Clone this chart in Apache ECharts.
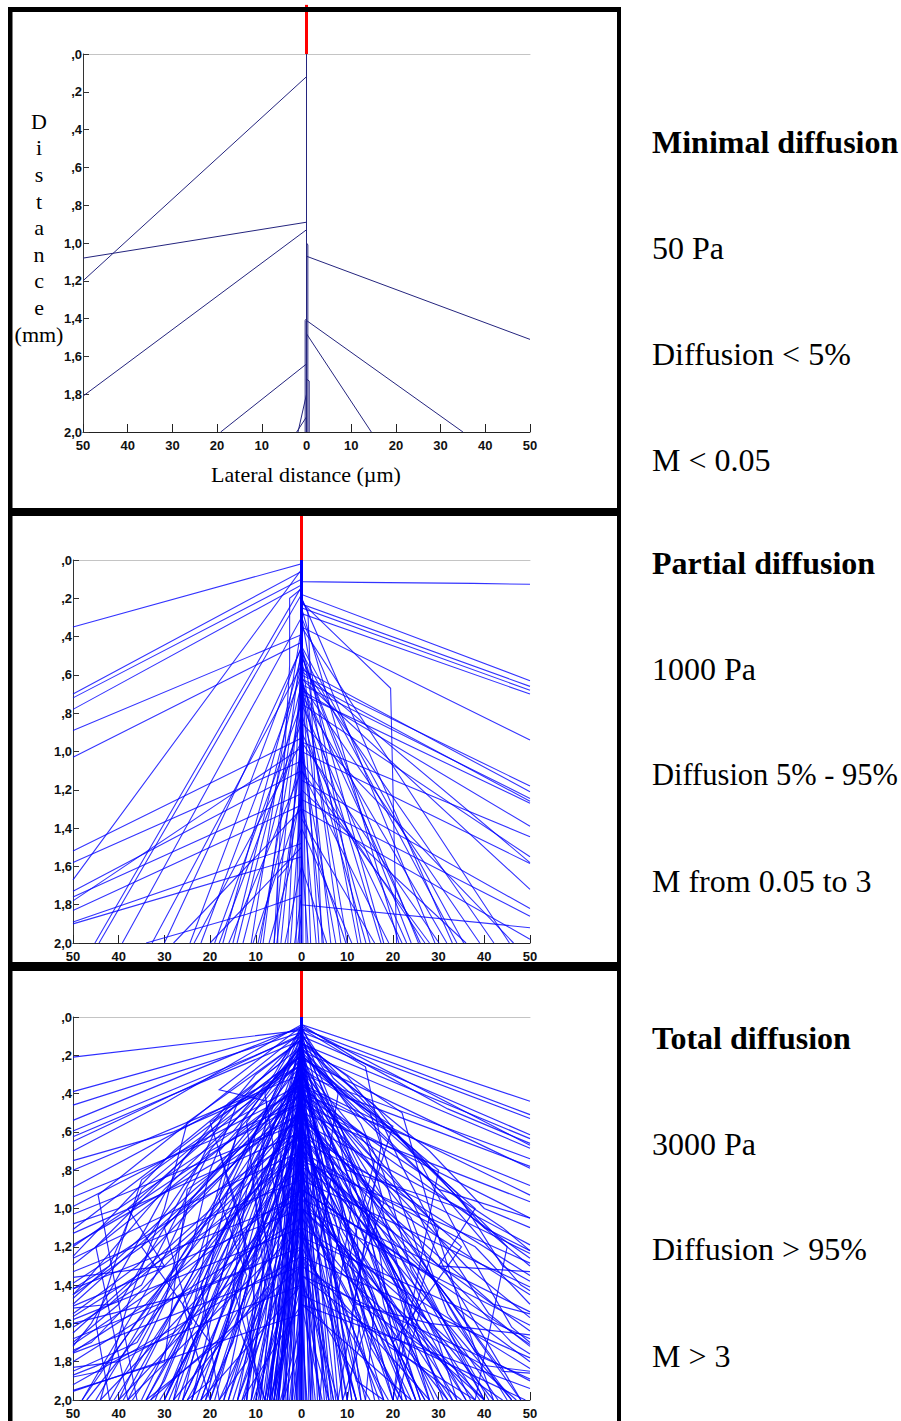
<!DOCTYPE html>
<html><head><meta charset="utf-8">
<script src="https://cdn.jsdelivr.net/npm/echarts@6/dist/echarts.min.js"></script>
<style>html,body{margin:0;padding:0;background:#fff}#c{width:901px;height:1421px}</style>
</head><body><div id="c"></div>
<script>
// ---------- tick labels ----------
const xTickLabels = ['50','40','30','20','10','0','10','20','30','40','50'];
const yTickLabels = [',0',',2',',4',',6',',8','1,0','1,2','1,4','1,6','1,8','2,0'];

// ---------- side texts ----------
const panelTitles = ['Minimal diffusion','Partial diffusion','Total diffusion'];
const panelPressure = ['50 Pa','1000 Pa','3000 Pa'];
const panelDiffusion = ['Diffusion < 5%','Diffusion 5% - 95%','Diffusion > 95%'];
const panelM = ['M < 0.05','M from 0.05 to 3','M > 3'];
const xTitle = 'Lateral distance (\u00b5m)';
const yTitle = 'D\ni\ns\nt\na\nn\nc\ne\n(mm)';

// ---------- trajectories: [scatter depth (mm), end x (µm), end y (mm)] ----------
const p1Scatter = [
 [0.12,-50,1.20],[0.89,-50,1.08],[0.93,-50,1.81],[1.07,50,1.51],[1.41,35,2.0],
 [1.48,14.5,2.0],[1.64,-19.2,2.0],[1.80,-1.9,2.0],[1.92,-2.2,2.0],[2.0,0,2.0]
];
// multi-segment trajectories: flat x,y,x,y...
const p1Paths = [
 [0,0,0,1.0,0.3,1.01,0.3,2.0],[0,0,0,1.4,-0.3,1.41,-0.3,2.0],[0,0,0,1.72,0.6,1.73,0.6,2.0]
];

const p2Scatter = [
 [0.02,-50,0.35],[0.06,-50,0.70],[0.10,-50,0.72],[0.13,-50,0.78],[0.39,-50,0.89],[0.43,-50,1.03],
 [0.05,-50,1.67],[0.93,-50,1.52],[1.05,-50,1.58],[1.10,-50,1.73],[1.22,-50,1.76],[0.98,-50,1.78],
 [1.28,-50,1.83],[1.48,-50,1.89],[1.55,-50,1.90],
 [0.14,-45.2,2],[0.18,-44.3,2],[0.30,-39.2,2],[0.55,-32.7,2],[0.45,-24.4,2],[0.95,-23.5,2],
 [0.50,-17.2,2],[1.10,-15.9,2],[0.65,-14.1,2],[0.80,-12.8,2],[1.25,-10.6,2],[0.45,-8.4,2],
 [1.40,-7.1,2],[1.00,-5.4,2],[1.60,-3.6,2],[1.20,-2.4,2],[1.75,-1.5,2],[1.50,-20,2],[1.30,-28,2],
 [0.60,-6,2],[0.90,-4.5,2],[1.00,-9.5,2],[0.75,-19,2],[0.35,-11,2],[0.47,-3,2],[0.46,-1.2,2],[1.85,-0.8,2],
 [0.18,50,0.63],[0.23,50,0.66],[0.25,50,0.68],[0.28,50,0.70],[0.35,50,0.94],[0.60,50,1.18],
 [0.57,50,1.21],[0.65,50,1.245],[0.62,50,1.26],[0.70,50,1.27],[0.68,50,1.39],[0.95,50,1.445],
 [0.75,50,1.55],[1.00,50,1.585],[1.15,50,1.82],[1.25,50,1.86],[1.80,50,1.92],[1.30,50,1.98],
 [1.50,1.4,2],[1.20,3.2,2],[0.90,4.8,2],[0.60,6.4,2],[0.50,8.6,2],[1.30,9.7,2],[0.45,12.3,2],
 [0.80,14.1,2],[0.62,17.4,2],[1.10,19.1,2],[0.25,21.3,2],[0.50,25.6,2],[0.30,29.2,2],[0.95,30.1,2],
 [0.70,31.8,2],[0.45,35.5,2],[1.20,36,2],[0.55,42.1,2],[0.35,45.5,2],[0.85,46.4,2],[0.70,2,2],
 [1.60,5.5,2],[1.00,7.5,2],[1.40,11,2],[0.30,13,2],[1.35,16,2],[0.75,23,2],[1.05,27,2],[0.20,33,2],
 [0.65,39,2],[0.46,1,2],[0.58,3.8,2],[2.0,0,2],[2.0,0,2],
 [0.45,18,2],[0.50,24,2],[0.60,10,2],[0.65,26,2],[0.70,15,2],[0.48,34,2],[0.58,50,1.58],
 [0.62,50,1.72],[0.90,22,2],[1.10,28,2],[0.55,-15,2],[0.60,-22,2],[0.46,-30,2],[0.70,-9,2],[0.85,-18,2]
];
const p2Paths = [
 [0,0,0,0.22,19.5,0.67,20.8,2.0],
 [0,0,0,0.113,12.7,0.117,37.5,0.122,50,0.127],
 [0,0,0,0.45,-0.3,0.5,-0.3,2.0],
 [0,0,0,0.55,0.3,0.6,0.3,2.0],
 [0,0,0,0.15,-2.6,0.2,-2.6,0.55,-6,2.0],
 [0,0,0,0.2,1.4,0.27,2.5,0.95,4.5,2.0],
 [0,0,0,1.2,-3,1.6,-5.2,1.66,-5.2,2.0],
 [0,0,0,1.75,-12,1.85,-34,2.0],
 [0,0,0,0.9,-0.5,1.1,-0.5,2.0]
];

const p3Scatter = [
 [0.07,-50,0.21],[0.06,-50,0.39],[0.08,-50,0.46],[0.05,-50,0.54],[0.10,-50,0.595],[0.12,-50,0.625],
 [0.09,-50,0.65],[0.30,-50,0.80],[0.25,-50,0.89],[0.45,-50,0.94],[0.38,-50,0.99],[0.55,-50,1.03],
 [0.20,-50,1.11],[0.60,-50,1.13],[0.50,-50,1.19],[0.70,-50,1.26],[0.35,-50,1.295],[0.85,-50,1.33],
 [0.62,-50,1.39],[0.95,-50,1.42],[0.40,-50,1.47],[1.00,-50,1.51],[0.80,-50,1.565],[1.10,-50,1.58],
 [0.58,-50,1.65],[1.20,-50,1.68],[0.90,-50,1.71],[1.30,-50,1.755],[1.05,-50,1.80],[1.40,-50,1.87],
 [1.25,-50,1.92],[1.55,-50,1.955],
 [0.04,50,0.44],[0.06,50,0.51],[0.08,50,0.53],[0.10,50,0.615],[0.14,50,0.635],[0.05,50,0.67],
 [0.18,50,0.685],[0.30,50,0.74],[0.22,50,0.79],[0.40,50,0.88],[0.35,50,0.93],[0.50,50,0.965],
 [0.45,50,1.05],[0.55,50,1.19],[0.65,50,1.235],[0.42,50,1.26],[0.75,50,1.285],[0.60,50,1.35],
 [0.85,50,1.41],[0.70,50,1.45],[0.95,50,1.54],[1.00,50,1.61],[0.78,50,1.64],[1.15,50,1.68],
 [0.90,50,1.71],[1.25,50,1.78],[1.10,50,1.835],[1.35,50,1.89],[1.50,50,1.94],
 [0.35,-48,2],[0.60,-47,2],[0.20,-45,2],[0.90,-44,2],[0.15,-42,2],[0.50,-41,2],[0.30,-39,2],
 [1.10,-38,2],[0.70,-37,2],[0.25,-35,2],[0.45,-34,2],[1.30,-33,2],[0.10,-32,2],[0.80,-31,2],
 [0.55,-30,2],[0.35,-29,2],[1.20,-28,2],[0.15,-27,2],[0.65,-26,2],[0.95,-25,2],[0.30,-24,2],
 [0.50,-23,2],[1.40,-22,2],[0.20,-21,2],[0.75,-20,2],[0.40,-19,2],[1.05,-18,2],[0.10,-17,2],
 [0.60,-16,2],[0.85,-15,2],[0.30,-14,2],[1.50,-13,2],[0.45,-12.5,2],[0.20,-12,2],[0.70,-11,2],
 [1.20,-10.5,2],[0.35,-10,2],[0.90,-9.5,2],[0.10,-9,2],[0.55,-8.5,2],[0.25,-8,2],[1.00,-7.5,2],
 [0.40,-7,2],[0.15,-6.8,2],[0.80,-6.5,2],[0.30,-6,2],[1.30,-5.6,2],[0.60,-5.2,2],[0.20,-5,2],
 [1.60,-4.6,2],[0.45,-4.2,2],[0.90,-4,2],[0.10,-3.6,2],[1.10,-3.2,2],[0.50,-3,2],[1.40,-2.6,2],
 [0.70,-2.2,2],[0.25,-2,2],[1.70,-1.6,2],[0.95,-1.2,2],[1.20,-0.8,2],[0.60,-0.5,2],[1.50,-0.3,2],
 [1.40,0.4,2],[0.80,0.8,2],[1.60,1.2,2],[0.30,1.6,2],[1.10,2,2],[0.55,2.5,2],[1.30,3,2],
 [0.15,3.5,2],[0.90,4,2],[1.50,4.5,2],[0.40,5,2],[0.70,5.5,2],[1.20,6,2],[0.20,6.5,2],[1.00,7,2],
 [0.50,7.5,2],[1.35,8,2],[0.30,9,2],[0.80,10,2],[0.10,11,2],[1.10,12,2],[0.45,13,2],[0.65,14,2],
 [1.40,15,2],[0.25,16,2],[0.90,17,2],[0.55,18,2],[1.20,19,2],[0.15,20,2],[0.70,21,2],[1.00,22,2],
 [0.35,23,2],[1.50,24,2],[0.50,25,2],[0.20,26,2],[0.85,27,2],[1.25,28,2],[0.40,29,2],[0.65,30,2],
 [0.10,31,2],[1.05,32,2],[0.30,33,2],[0.75,34,2],[1.35,35,2],[0.45,36,2],[0.20,37,2],[0.95,38,2],
 [0.60,39,2],[1.15,40,2],[0.30,41,2],[0.80,42,2],[0.50,43,2],[1.30,44,2],[0.25,45,2],[0.70,46,2],
 [1.00,47,2],[0.40,48,2],[1.45,49,2],
 [1.60,-2,2],[1.20,-4,2],[1.00,-5.5,2],[0.80,-6.5,2],[0.60,-7.5,2],[1.40,-7,2],[1.70,-4,2],
 [1.10,-8,2],[0.90,-6,2],[0.70,-5,2],[1.30,-1,2],[1.50,1,2],
 [2.0,0,2],[2.0,0,2],[2.0,0,2]
];
const p3Paths = [
 [0,0,0,0.08,-44.5,0.93,-36,2.0],
 [0,0,0,0.05,-18,0.38,-7.6,0.44,-12,2.0],
 [0,0,0,0.06,14,0.26,17.5,0.66,8,2.0],
 [0,0,0,0.3,-22,0.9,-50,1.5],
 [0,0,0,0.2,30,0.8,20,2.0],
 [0,0,0,0.5,-25,0.9,-30,1.8,-50,1.95],
 [0,0,0,0.15,-12,0.55,-9,1.2,-20,2.0],
 [0,0,0,0.4,10,0.8,35,1.0,50,1.3],
 [0,0,0,0.7,-15,1.4,-8,2.0],
 [0,0,0,0.9,25,1.3,40,2.0],
 [0,0,0,0.25,-35,0.85,-45,1.6,-42,2.0],
 [0,0,0,0.6,12,1.5,28,1.6,50,1.66],
 [0,0,0,0.3,-0.3,0.4,-0.3,2.0],
 [0,0,0,0.5,0.3,0.6,0.3,2.0],
 [0,0,0,0.2,-1,0.5,-7,2.0],
 [0,0,0,0.3,-0.8,0.7,-6,2.0],
 [0,0,0,0.4,-1.5,1.0,-7.5,2.0],
 [0,0,0,0.6,-2,1.2,-8,2.0],
 [0,0,0,0.35,1,0.8,2,2.0],
 [0,0,0,0.45,-20,0.7,-35,1.4,-50,1.62],
 [0,0,0,0.55,18,0.95,38,1.2,50,1.5],
 [0,0,0,0.8,-10,1.3,-25,1.45,-50,1.6],
 [0,0,0,1.0,15,1.35,30,1.9,33,2.0],
 [0,0,0,0.1,-8,0.5,-20,1.1,-28,2.0],
 [0,0,0,0.12,6,0.45,15,0.9,22,2.0],
 [0,0,0,0.2,-5,0.6,-3,1.3,-14,2.0],
 [0,0,0,0.25,4,0.7,-2,1.5,-6,2.0],
 [0,0,0,0.15,-15,0.6,-40,1.0,-50,1.25],
 [0,0,0,0.18,12,0.5,30,0.9,50,1.05],
 [0,0,0,0.3,-10,0.8,-5,1.6,-10,2.0],
 [0,0,0,0.35,8,0.9,12,1.4,24,2.0],
 [0,0,0,0.1,-3,0.4,-12,0.9,-16,1.6,-22,2.0],
 [0,0,0,0.08,3,0.35,10,0.75,18,1.4,26,2.0],
 [0,0,0,0.4,-6,0.9,-18,1.3,-30,2.0],
 [0,0,0,0.45,5,0.85,20,1.25,30,1.7,34,2.0],
 [0,0,0,0.05,-6,0.3,-22,0.75,-35,1.2,-50,1.45],
 [0,0,0,0.06,7,0.32,25,0.7,40,1.1,50,1.22],
 [0,0,0,0.5,-2,1.0,-4,1.6,-3,2.0],
 [0,0,0,0.55,2,1.1,5,1.7,4,2.0],
 [0,0,0,0.22,-18,0.7,-12,1.2,-26,1.8,-30,2.0],
 [0,0,0,0.28,16,0.75,10,1.3,20,2.0],
 [0,0,0,0.12,-25,0.55,-30,1.0,-38,1.5,-44,2.0],
 [0,0,0,0.14,22,0.5,28,1.0,36,1.6,42,2.0],
 [0,0,0,0.6,-8,1.0,-14,1.4,-20,1.9,-25,2.0],
 [0,0,0,0.65,9,1.05,16,1.5,14,2.0],
 [0,0,0,0.3,-3,0.9,-9,1.5,-16,2.0],
 [0,0,0,0.32,3,0.95,8,1.45,11,2.0],
 [0,0,0,0.18,-9,0.4,-28,0.6,-50,0.75],
 [0,0,0,0.16,10,0.42,30,0.6,50,0.78],
 [0,0,0,0.7,-5,1.3,-12,1.8,-18,2.0],
 [0,0,0,0.75,6,1.35,12,1.9,18,2.0],
 [0,0,0,0.4,-12,0.7,-25,1.0,-30,1.5,-40,2.0],
 [0,0,0,0.42,13,0.72,24,1.05,32,1.55,46,2.0],
 [0,0,0,0.08,-2,0.5,-8,1.2,-11,2.0],
 [0,0,0,0.1,2,0.55,7,1.25,9,2.0],
 [0,0,0,0.2,-14,0.45,-20,0.8,-24,1.2,-36,1.7,-50,1.85],
 [0,0,0,0.24,15,0.5,20,0.85,26,1.25,38,1.75,50,1.9],
 [0,0,0,0.85,-4,1.2,-10,1.7,-14,2.0],
 [0,0,0,0.88,4,1.25,9,1.75,12,2.0],
 [0,0,0,0.5,-16,0.9,-22,1.5,-34,2.0],
 [0,0,0,0.52,17,0.95,24,1.55,36,2.0],
 [0,0,0,0.04,-12,0.2,-30,0.45,-50,0.7],
 [0,0,0,0.04,12,0.22,32,0.48,50,0.66],
 [0,0,0,0.95,-2,1.4,-5,2.0],
 [0,0,0,1.0,1.5,1.45,4,2.0],
 [0,0,0,0.6,-10,0.95,-8,1.4,-17,2.0],
 [0,0,0,0.62,11,0.98,8,1.45,18,2.0],
 [0,0,0,0.35,-20,0.6,-35,0.9,-42,1.3,-50,1.42],
 [0,0,0,0.36,21,0.62,34,0.92,44,1.3,50,1.38],
 [0,0,0,1.1,-6,1.5,-11,2.0],
 [0,0,0,1.15,7,1.55,10,2.0],
 [0,0,0,0.2,-6,0.8,-14,1.0,-10,1.5,-12,2.0],
 [0,0,0,0.22,6,0.82,15,1.05,11,1.55,13,2.0],
 [0,0,0,0.45,-9,1.1,-22,1.6,-28,2.0],
 [0,0,0,0.47,9,1.12,22,1.62,28,2.0],
 [0,0,0,0.7,-20,1.1,-34,1.5,-50,1.75],
 [0,0,0,0.72,20,1.12,34,1.52,50,1.8],
 [0,0,0,0.15,-4,0.65,-16,1.1,-22,1.4,-18,2.0],
 [0,0,0,0.17,4,0.67,16,1.12,23,1.45,20,2.0],
 [0,0,0,1.3,-3,1.7,-7,2.0],
 [0,0,0,1.35,3,1.75,6,2.0],
 [0,0,0,0.9,-12,1.3,-18,1.7,-34,2.0],
 [0,0,0,0.92,12,1.32,19,1.72,38,2.0],
 [0,0,0,0.06,-4,0.3,-10,0.6,-14,1.0,-19,1.5,-24,2.0],
 [0,0,0,0.07,4,0.3,9,0.6,14,1.0,18,1.5,25,2.0],
 [0,0,0,0.1,-1,0.4,-5,0.7,-9,1.0,-6,1.4,-9,2.0],
 [0,0,0,0.11,1,0.42,5,0.72,9,1.02,6,1.42,8,2.0],
 [0,0,0,0.15,-7,0.35,-13,0.55,-17,0.8,-23,1.3,-38,2.0],
 [0,0,0,0.16,7,0.36,13,0.56,18,0.82,24,1.32,40,2.0],
 [0,0,0,0.2,-2,0.45,-6,0.9,-3,1.3,-5,2.0],
 [0,0,0,0.21,2,0.46,6,0.92,3,1.32,6,2.0],
 [0,0,0,0.3,-8,0.6,-11,0.9,-20,1.4,-26,2.0],
 [0,0,0,0.31,8,0.62,11,0.93,21,1.42,28,2.0],
 [0,0,0,0.12,-10,0.3,-17,0.5,-22,0.75,-30,1.1,-40,1.5,-50,1.7],
 [0,0,0,0.13,10,0.31,17,0.52,22,0.78,30,1.15,41,1.55,50,1.72],
 [0,0,0,0.25,-1,0.6,-6,1.1,-8,1.6,-13,2.0],
 [0,0,0,0.27,1,0.62,5,1.12,8,1.62,12,2.0],
 [0,0,0,0.4,-3,0.8,-10,1.2,-15,1.7,-21,2.0],
 [0,0,0,0.41,3,0.82,10,1.22,15,1.72,22,2.0],
 [0,0,0,0.05,-3,0.2,-8,0.4,-6,0.7,-12,1.1,-14,1.6,-8,2.0],
 [0,0,0,0.05,3,0.2,8,0.4,6,0.72,12,1.12,14,1.62,9,2.0],
 [0,0,0,0.55,-4,0.9,-1,1.3,-6,2.0],
 [0,0,0,0.57,4,0.92,1,1.32,7,2.0],
 [0,0,0,0.35,-14,0.6,-18,0.95,-12,1.35,-22,2.0],
 [0,0,0,0.37,14,0.62,18,0.97,12,1.37,23,2.0],
 [0,0,0,0.09,-5,0.25,-16,0.45,-26,0.75,-34,1.1,-46,1.6,-50,1.72],
 [0,0,0,0.09,5,0.26,16,0.46,26,0.76,34,1.12,46,1.62,50,1.7],
 [0,0,0,0.65,-1,1.0,-3,1.5,-1,2.0],
 [0,0,0,0.68,1,1.05,3,1.55,2,2.0],
 [0,0,0,0.45,-7,0.75,-4,1.15,-12,1.55,-9,2.0],
 [0,0,0,0.47,7,0.77,4,1.17,13,1.57,10,2.0],
 [0,0,0,0.8,-7,1.1,-16,1.45,-24,2.0],
 [0,0,0,0.82,7,1.12,16,1.47,25,2.0],
 [0,0,0,0.1,-20,0.6,-45,1.2,-38,2.0],
 [0,0,0,0.2,-30,0.9,-48,1.4,-50,1.45],
 [0,0,0,0.3,-16,0.8,-36,1.3,-50,1.55],
 [0,0,0,0.15,-28,0.7,-40,1.0,-50,1.08],
 [0,0,0,0.25,-24,0.95,-32,1.35,-48,2.0],
 [0,0,0,0.5,-18,1.0,-42,1.5,-50,1.52],
 [0,0,0,0.35,-30,1.1,-24,1.6,-40,2.0],
 [0,0,0,0.6,-26,1.2,-46,1.7,-50,1.74],
 [0,0,0,0.2,-38,1.0,-30,1.3,-50,1.36],
 [0,0,0,0.45,-35,1.2,-20,1.7,-26,2.0],
 [0,0,0,0.7,-30,1.4,-44,1.85,-50,1.88],
 [0,0,0,0.4,-44,1.1,-50,1.2],
 [0,0,0,0.1,20,0.6,45,1.2,38,2.0],
 [0,0,0,0.2,30,0.9,48,1.4,50,1.43],
 [0,0,0,0.3,16,0.8,36,1.3,50,1.57],
 [0,0,0,0.15,28,0.7,40,1.0,50,1.1],
 [0,0,0,0.25,24,0.95,32,1.35,48,2.0],
 [0,0,0,0.5,18,1.0,42,1.5,50,1.55],
 [0,0,0,0.35,30,1.1,24,1.6,40,2.0],
 [0,0,0,0.6,26,1.2,46,1.7,50,1.76],
 [0,0,0,0.2,38,1.0,30,1.3,50,1.33],
 [0,0,0,0.45,35,1.2,20,1.7,27,2.0],
 [0,0,0,0.7,30,1.4,44,1.85,50,1.86],
 [0,0,0,0.4,44,1.1,50,1.22],
 [0,0,0,0.3,-12,0.9,-26,1.5,-20,2.0],
 [0,0,0,0.32,12,0.92,26,1.52,21,2.0],
 [0,0,0,0.55,-9,1.25,-28,1.65,-40,1.8,-50,1.83],
 [0,0,0,0.57,9,1.27,28,1.67,40,1.82,50,1.85],
 [0,0,0,0.25,-20,0.55,-14,1.0,-30,1.9,-33,2.0],
 [0,0,0,0.27,20,0.57,14,1.02,30,1.92,32,2.0]
];

// ---------- build ----------
function toCoords(scatter, paths) {
  const out = [];
  scatter.forEach(s => out.push({coords: [[0,0],[0,s[0]],[s[1],s[2]]]}));
  paths.forEach(p => {
    const c = [];
    for (let i = 0; i < p.length; i += 2) c.push([p[i], p[i+1]]);
    out.push({coords: c});
  });
  return out;
}
const panels = [
  {grid:{left:83, top:54, width:447, height:378}, data: toCoords(p1Scatter, p1Paths), color:'#24247e', opacity:1, width:1},
  {grid:{left:73, top:560, width:457, height:383}, data: toCoords(p2Scatter, p2Paths), color:'#0000ff', opacity:0.8, width:1.1},
  {grid:{left:73, top:1017, width:457, height:383}, data: toCoords(p3Scatter, p3Paths), color:'#0000ff', opacity:0.82, width:1.2}
];

const tickFont = {fontFamily:'Liberation Sans, Arial, sans-serif', fontWeight:'bold', fontSize:13, color:'#111'};
const grids = [], xAxes = [], yAxes = [], series = [];
panels.forEach((p, i) => {
  grids.push(Object.assign({containLabel:false}, p.grid));
  xAxes.push({type:'value', gridIndex:i, min:-50, max:50, interval:10, position:'bottom',
    axisLine:{onZero:false, lineStyle:{color:'#222', width:1}},
    axisTick:{inside:true, length:8, lineStyle:{color:'#222'}},
    axisLabel:Object.assign({margin:7, formatter:v => xTickLabels[Math.round(v/10)+5]}, tickFont),
    splitLine:{show:false}});
  xAxes.push({type:'value', gridIndex:i, min:-50, max:50, position:'top',
    axisLine:{show:true, onZero:false, lineStyle:{color:'#c4c4c4', width:1}},
    axisTick:{show:false}, axisLabel:{show:false}, splitLine:{show:false}});
  yAxes.push({type:'value', gridIndex:i, min:0, max:2, interval:0.2, inverse:true, position:'left',
    axisLine:{show:true, onZero:false, lineStyle:{color:'#333', width:1}},
    axisTick:{show:true, inside:true, length:6, lineStyle:{color:'#333'}},
    axisLabel:Object.assign({margin:1, formatter:v => yTickLabels[Math.round(v*5)]}, tickFont),
    splitLine:{show:false}});
  series.push({type:'lines', coordinateSystem:'cartesian2d', xAxisIndex:2*i, yAxisIndex:i,
    polyline:true, silent:true, animation:false,
    lineStyle:{color:p.color, width:p.width, opacity:p.opacity}, data:p.data});
  series.push({type:'line', xAxisIndex:2*i, yAxisIndex:i, clip:false, symbol:'none', silent:true,
    animation:false, lineStyle:{color:'#ff0000', width:3}, data:[[0,-0.26],[0,0]], z:5});
});

const serif = 'Liberation Serif, Times New Roman, serif';
const graphics = [
  {type:'rect', shape:{x:8, y:7, width:613, height:5}, style:{fill:'#000'}, z:100},
  {type:'rect', shape:{x:8, y:508, width:613, height:8}, style:{fill:'#000'}, z:100},
  {type:'rect', shape:{x:8, y:962, width:613, height:9}, style:{fill:'#000'}, z:100},
  {type:'rect', shape:{x:8, y:7, width:4.5, height:1414}, style:{fill:'#000'}, z:100},
  {type:'rect', shape:{x:617, y:7, width:4, height:1414}, style:{fill:'#000'}, z:100},
  {type:'text', x:306, y:474, style:{text:xTitle, font:'22px ' + serif, fill:'#000', align:'center', verticalAlign:'middle'}, z:100},
  {type:'text', x:39, y:108, style:{text:yTitle, font:'22px ' + serif, fill:'#000', align:'center', verticalAlign:'top', lineHeight:26.6}, z:100}
];
const rowY = [[142,248,354,460],[563,669,775,881],[1038,1144,1249,1356]];
for (let i = 0; i < 3; i++) {
  const texts = [panelTitles[i], panelPressure[i], panelDiffusion[i], panelM[i]];
  texts.forEach((t, j) => {
    const size = (i === 1 && j === 2) ? 30.5 : 32;
    graphics.push({type:'text', x:652, y:rowY[i][j],
      style:{text:t, font:(j===0?'bold ':'') + size + 'px ' + serif, fill:'#000', align:'left', verticalAlign:'middle'}, z:100});
  });
}

const chart = echarts.init(document.getElementById('c'), null, {renderer:'svg', width:901, height:1421});
chart.setOption({
  animation:false, backgroundColor:'#fff',
  grid:grids, xAxis:xAxes, yAxis:yAxes, series:series, graphic:graphics
});
</script></body></html>
